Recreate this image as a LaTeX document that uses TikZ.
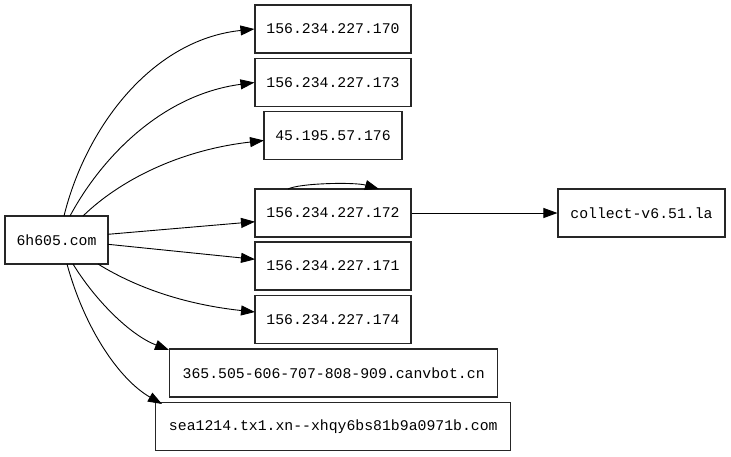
\documentclass[tikz,border=0pt]{standalone}
\usepackage{fontspec}
\newfontfamily\gvmono{Liberation Mono}
\usetikzlibrary{arrows.meta}
\begin{document}
\begin{tikzpicture}[x=1pt,y=-1pt,
  box/.style={draw=black!85, line width=1.1pt, fill=white, minimum height=48pt, inner sep=0pt,
    font=\gvmono\fontsize{14.8}{17}\selectfont},
  edge/.style={line width=0.9pt, -{Triangle[length=14pt,width=10pt]}}]
\useasboundingbox (0,0) rectangle (731,456);
\fill[white] (0,0) rectangle (731,456);
\node[box, minimum width=103pt] (src) at (56.5,240) {6h605.com};
\node[box, minimum width=156pt] (a170) at (333,29) {156.234.227.170};
\node[box, minimum width=156pt] (a173) at (333,82.5) {156.234.227.173};
\node[box, minimum width=138pt] (a176) at (333,135.5) {45.195.57.176};
\node[box, minimum width=156pt] (a172) at (333,213) {156.234.227.172};
\node[box, minimum width=156pt] (a171) at (333,266) {156.234.227.171};
\node[box, minimum width=156pt] (a174) at (333,319.7) {156.234.227.174};
\node[box, minimum width=328pt] (cb) at (333.7,373) {365.505-606-707-808-909.canvbot.cn};
\node[box, minimum width=355pt] (sea) at (333.3,426.7) {sea1214.tx1.xn--xhqy6bs81b9a0971b.com};
\node[box, minimum width=167pt] (col) at (641.5,213) {collect-v6.51.la};

\coordinate (s1) at (64,216);
\coordinate (s2) at (70,216);
\coordinate (s3) at (83,216);
\coordinate (e2) at (108,234.3);
\coordinate (e3) at (108,244.3);
\coordinate (b1) at (98,264);
\coordinate (b2) at (73,264);
\coordinate (b3) at (67,264);
\coordinate (t172) at (255,221.7);
\coordinate (t171) at (255,259.3);
\coordinate (t176) at (264,140.5);
\coordinate (t174) at (255,312);
\coordinate (tcb) at (169,350);
\coordinate (tsea) at (162,404);
\draw[edge] (s1) .. controls (85,130) and (150,40) .. (a170.west);
\draw[edge] (s2) .. controls (100,160) and (160,95) .. (a173.west);
\draw[edge] (s3) .. controls (120,180) and (180,150) .. (t176);
\draw[edge] (e2) -- (t172);
\draw[edge] (e3) -- (t171);
\draw[edge] (b1) .. controls (140,290) and (190,305) .. (t174);
\draw[edge] (b2) .. controls (95,300) and (130,335) .. (tcb);
\draw[edge] (b3) .. controls (85,330) and (120,380) .. (tsea);
\draw[edge] (a172.east) -- (col.west);
\coordinate (l1) at (288,189);
\coordinate (l2) at (379,189);
\draw[edge] (l1) .. controls (300,183) and (355,182) .. (l2);
\end{tikzpicture}
\end{document}
